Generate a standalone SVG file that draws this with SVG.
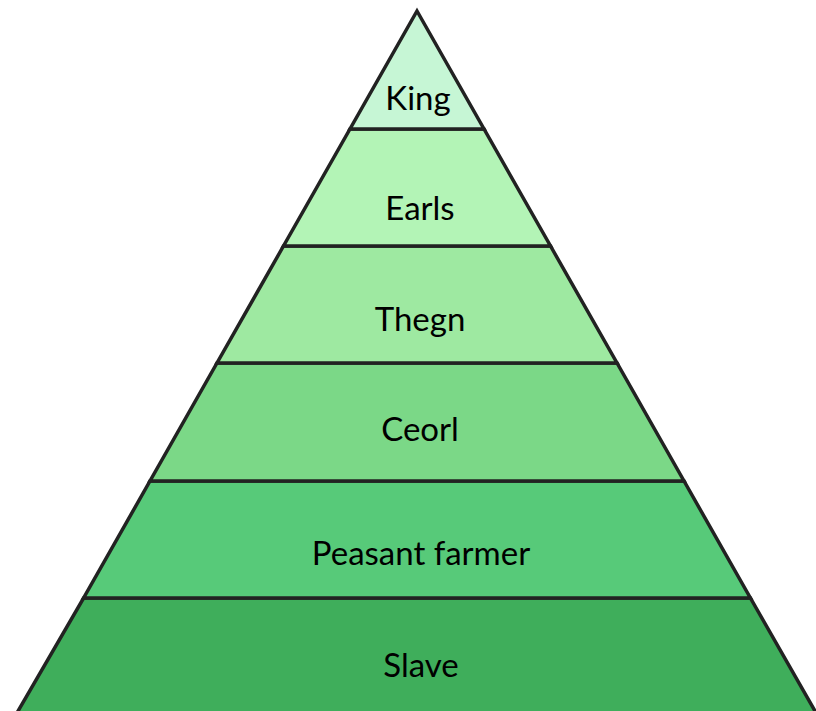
<svg xmlns="http://www.w3.org/2000/svg" width="816" height="711" viewBox="0 0 816 711">
<style>
.layer{stroke:#222;stroke-width:3.5;stroke-linejoin:miter}
.lbl{font-family:Lato,"Open Sans","DejaVu Sans",sans-serif;font-size:33px;fill:#000;text-anchor:middle}
</style>
<rect width="816" height="711" fill="#fff"/>
<g id="slave"><polygon class="layer" fill="#3fae5b" points="83.6,598 750.4,598 819,718 14,718"/><text class="lbl" x="421" y="677">Slave</text></g>
<g id="peasant"><polygon class="layer" fill="#57ca79" points="150,481 684,481 750.4,598 83.6,598"/><text class="lbl" x="421" y="565">Peasant farmer</text></g>
<g id="ceorl"><polygon class="layer" fill="#7bd887" points="217,363 617,363 684,481 150,481"/><text class="lbl" x="420" y="441">Ceorl</text></g>
<g id="thegn"><polygon class="layer" fill="#9ee9a1" points="283.5,246 550.5,246 617,363 217,363"/><text class="lbl" x="420" y="331">Thegn</text></g>
<g id="earls"><polygon class="layer" fill="#b3f4b6" points="350,129 484,129 550.5,246 283.5,246"/><text class="lbl" x="420" y="220">Earls</text></g>
<g id="king"><polygon class="layer" fill="#c6f6d5" points="417,11 484,129 350,129"/><text class="lbl" x="418" y="110">King</text></g>
</svg>
